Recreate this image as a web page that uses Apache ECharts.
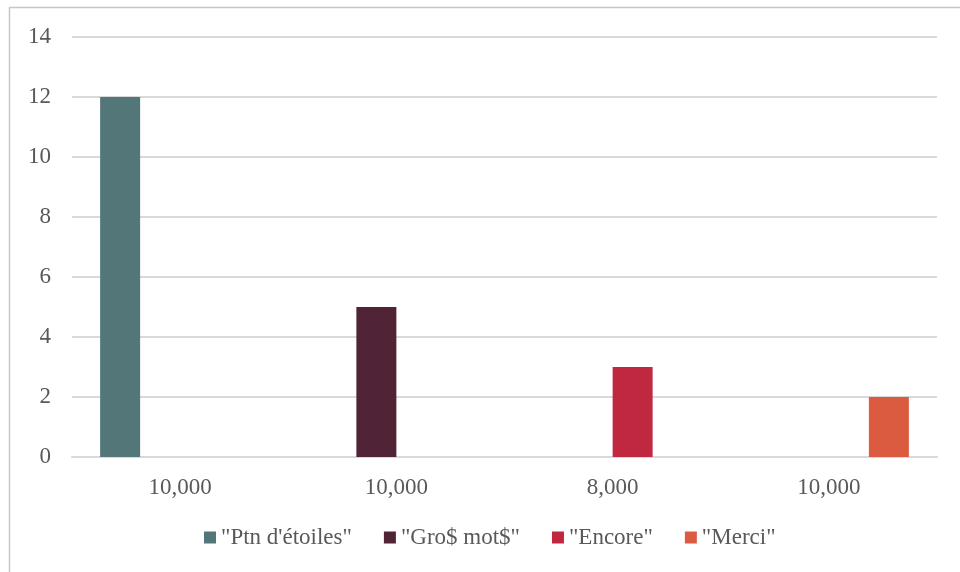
<!DOCTYPE html>
<html>
<head>
<meta charset="utf-8">
<script src="https://cdn.jsdelivr.net/npm/echarts@6/dist/echarts.min.js"></script>
<style>
  html, body { margin: 0; padding: 0; background: #ffffff; }
  #chart { width: 960px; height: 572px; }
</style>
</head>
<body>
<div id="chart"></div>
<script>
// Categories along the x axis
const categories = ['10,000', '10,000', '8,000', '10,000'];
// Series names and their values (one bar per category)
const seriesNames = ['"Ptn d\'étoiles"', '"Gro$ mot$"', '"Encore"', '"Merci"'];
const ptnValues = [12, null, null, null];
const grosValues = [null, 5, null, null];
const encoreValues = [null, null, 3, null];
const merciValues = [null, null, null, 2];
const seriesColors = ['#537679', '#512336', '#c0283f', '#db5b41'];
const yTicks = { min: 0, max: 14, interval: 2 };

const textColor = '#595959';
const fontFamily = '"Liberation Serif", "Times New Roman", serif';

const chart = echarts.init(document.getElementById('chart'), null, { renderer: 'canvas' });

const valueSets = [ptnValues, grosValues, encoreValues, merciValues];

chart.setOption({
  animation: false,
  backgroundColor: '#ffffff',
  textStyle: { fontFamily: fontFamily },
  graphic: [{
    type: 'rect',
    shape: { x: 9.5, y: 7.5, width: 1000, height: 1000 },
    style: { fill: 'none', stroke: '#bccccc', lineWidth: 1.5 },
    silent: true
  }],
  grid: { left: 72, right: 23, top: 37, bottom: 115, containLabel: false },
  legend: {
    top: 521,
    left: 199,
    itemWidth: 12,
    itemHeight: 12,
    itemGap: 32,
    icon: 'rect',
    textStyle: { color: textColor, fontSize: 23, fontFamily: fontFamily },
    data: seriesNames
  },
  xAxis: {
    type: 'category',
    data: categories,
    axisLine: { show: true, lineStyle: { color: '#d9d9d9', width: 2 } },
    axisTick: { show: false },
    axisLabel: { color: textColor, fontSize: 23, fontFamily: fontFamily, margin: 19 }
  },
  yAxis: {
    type: 'value',
    min: yTicks.min,
    max: yTicks.max,
    interval: yTicks.interval,
    axisLine: { show: false },
    axisTick: { show: false },
    axisLabel: { color: textColor, fontSize: 23, fontFamily: fontFamily, margin: 21 },
    splitLine: { lineStyle: { color: '#d9d9d9', width: 2 } }
  },
  series: seriesNames.map((name, i) => ({
    name: name,
    type: 'bar',
    data: valueSets[i],
    barWidth: 40,
    barGap: '0%',
    itemStyle: { color: seriesColors[i] }
  }))
});
</script>
</body>
</html>
